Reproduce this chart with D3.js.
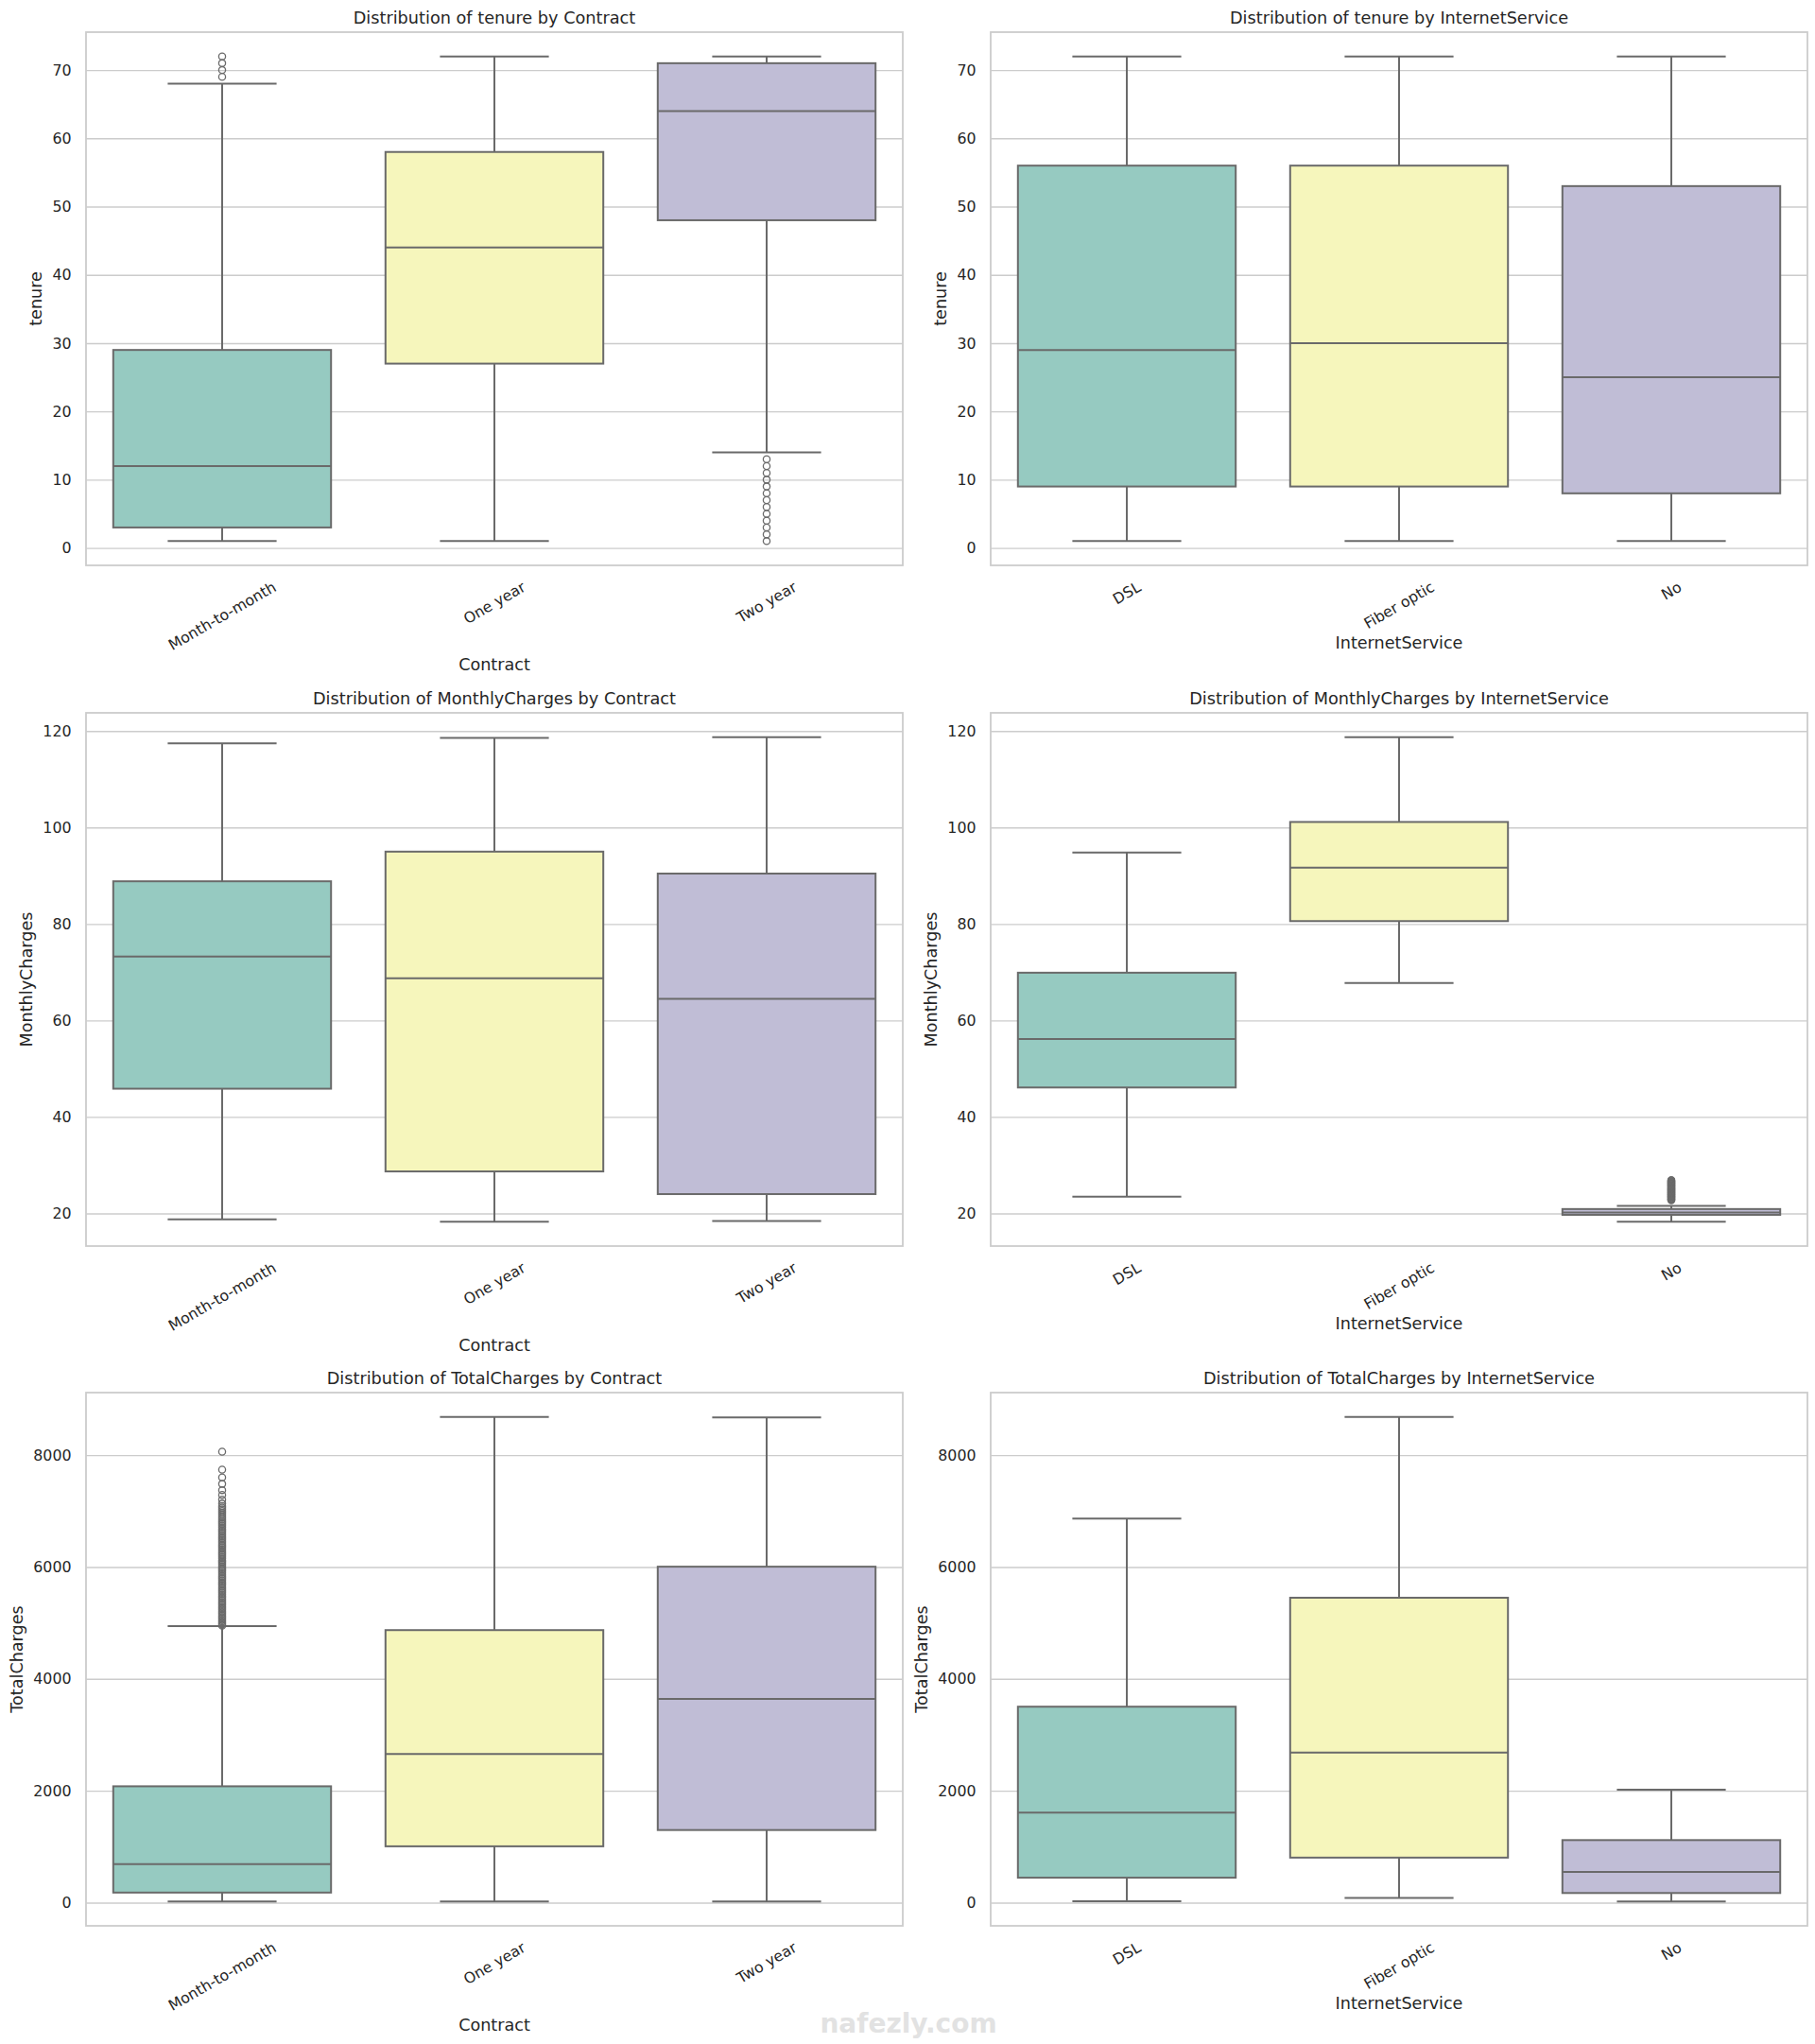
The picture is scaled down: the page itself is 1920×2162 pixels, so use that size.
<!DOCTYPE html>
<html>
<head>
<meta charset="utf-8">
<script src="https://cdn.jsdelivr.net/npm/d3@7"></script>
<style>
  body { margin: 0; background: #ffffff; }
  svg { display: block; font-family: "DejaVu Sans", sans-serif; }
</style>
</head>
<body>
<div id="root"></div>
<script>
// Categories
const contractCats = ["Month-to-month", "One year", "Two year"];
const internetCats = ["DSL", "Fiber optic", "No"];

// Box summaries per category: [whisker low, Q1, median, Q3, whisker high]
const tenureByContract = [[1, 3, 12, 29, 68], [1, 27, 44, 58, 72], [14, 48, 64, 71, 72]];
const tenureByContractFliers = [[69, 70, 71, 72], [], [1, 2, 3, 4, 5, 6, 7, 8, 9, 10, 11, 12, 13]];

const tenureByInternet = [[1, 9, 29, 56, 72], [1, 9, 30, 56, 72], [1, 8, 25, 53, 72]];
const tenureByInternetFliers = [[], [], []];

const monthlyByContract = [[18.75, 45.85, 73.25, 88.85, 117.45], [18.25, 28.7, 68.75, 95, 118.6], [18.4, 24, 64.5, 90.45, 118.75]];
const monthlyByContractFliers = [[], [], []];

const monthlyByInternet = [[23.45, 46.1, 56.15, 69.9, 94.8], [67.75, 80.6, 91.7, 101.15, 118.75], [18.25, 19.7, 20.2, 20.9, 21.55]];
const monthlyByInternetFliers = [[], [], [
  22.75, 22.85, 22.95, 23.05, 23.15, 23.3, 23.4, 23.5, 23.6, 23.75, 23.85, 23.95, 24.05,
  24.2, 24.3, 24.4, 24.5, 24.65, 24.75, 24.85, 24.95, 25.1, 25.2, 25.3, 25.4, 25.55,
  25.65, 25.75, 25.85, 26.0, 26.1, 26.2, 26.3, 26.45, 26.55, 26.65, 26.8, 26.9
]];

const totalByContract = [[18.85, 180, 688, 2080, 4942], [18.8, 1007, 2659, 4872, 8684.8], [20.35, 1298, 3644, 6006, 8672.45]];
const totalByContractFliers = [[
  4950, 4975, 5000, 5025, 5050, 5080, 5105, 5130, 5160, 5185, 5210, 5240, 5265, 5290,
  5320, 5345, 5370, 5400, 5430, 5455, 5480, 5510, 5540, 5565, 5590, 5620, 5650, 5680,
  5705, 5730, 5760, 5790, 5815, 5840, 5870, 5900, 5930, 5955, 5980, 6010, 6040, 6070,
  6095, 6120, 6150, 6180, 6210, 6235, 6260, 6290, 6320, 6350, 6375, 6400, 6430, 6460,
  6490, 6515, 6540, 6570, 6600, 6630, 6655, 6680, 6710, 6740, 6770, 6795, 6820, 6850,
  6880, 6910, 6940, 6970, 7000, 7030, 7060, 7090,
  7135, 7205, 7290, 7375, 7485, 7600, 7740, 8061
], [], []];

const totalByInternet = [[23.45, 446, 1611, 3503, 6866], [84, 805, 2682, 5451, 8684.8], [18.8, 172, 547, 1118, 2018]];
const totalByInternetFliers = [[], [], []];

// Tick labels
const tenureTicks = [0, 10, 20, 30, 40, 50, 60, 70];
const monthlyTicks = [20, 40, 60, 80, 100, 120];
const totalTicks = [0, 2000, 4000, 6000, 8000];

// Set3 palette, desaturated as in seaborn
const palette = ["#96cac1", "#f6f6bc", "#c0bdd6"];

const panels = [
  { title: "Distribution of tenure by Contract", xLabel: "Contract", yLabel: "tenure", cats: contractCats, stats: tenureByContract, fliers: tenureByContractFliers, ticks: tenureTicks },
  { title: "Distribution of tenure by InternetService", xLabel: "InternetService", yLabel: "tenure", cats: internetCats, stats: tenureByInternet, fliers: tenureByInternetFliers, ticks: tenureTicks },
  { title: "Distribution of MonthlyCharges by Contract", xLabel: "Contract", yLabel: "MonthlyCharges", cats: contractCats, stats: monthlyByContract, fliers: monthlyByContractFliers, ticks: monthlyTicks },
  { title: "Distribution of MonthlyCharges by InternetService", xLabel: "InternetService", yLabel: "MonthlyCharges", cats: internetCats, stats: monthlyByInternet, fliers: monthlyByInternetFliers, ticks: monthlyTicks },
  { title: "Distribution of TotalCharges by Contract", xLabel: "Contract", yLabel: "TotalCharges", cats: contractCats, stats: totalByContract, fliers: totalByContractFliers, ticks: totalTicks },
  { title: "Distribution of TotalCharges by InternetService", xLabel: "InternetService", yLabel: "TotalCharges", cats: internetCats, stats: totalByInternet, fliers: totalByInternetFliers, ticks: totalTicks }
];

// Layout
const width = 1920;
const height = 2162;
const colLeft = [91, 1048];
const rowTop = [34, 754, 1473];
const W = 864;
const H = 564;

const lineColor = "#6a6a6a";
const gridColor = "#cccccc";
const textColor = "#262626";
const tickSize = 15.8;
const labelSize = 17.6;
const titleSize = 17.7;

const svg = d3.select("#root")
  .append("svg")
  .attr("width", width)
  .attr("height", height);

panels.forEach((p, i) => {
  const g = svg.append("g")
    .attr("transform", `translate(${colLeft[i % 2]},${rowTop[Math.floor(i / 2)]})`);

  // y extent from all values, padded 5% like matplotlib autoscale
  const all = p.stats.flat().concat(p.fliers.flat());
  const lo = d3.min(all), hi = d3.max(all);
  const pad = (hi - lo) * 0.05;

  const x = d3.scaleBand().domain(p.cats).range([0, W]);
  const y = d3.scaleLinear().domain([lo - pad, hi + pad]).range([H, 0]);
  const bw = x.bandwidth();

  // horizontal grid
  g.append("g")
    .call(d3.axisLeft(y).tickValues(p.ticks).tickSize(-W).tickFormat(""))
    .call(a => a.select(".domain").remove())
    .call(a => a.selectAll("line").attr("stroke", gridColor).attr("stroke-width", 1.4));

  // y tick labels
  const yAxis = g.append("g")
    .call(d3.axisLeft(y).tickValues(p.ticks).tickSize(0).tickPadding(15.5).tickFormat(d3.format("d")))
    .call(a => a.select(".domain").remove());
  yAxis.selectAll("text")
    .attr("fill", textColor)
    .style("font-size", tickSize + "px")
    .style("font-family", "DejaVu Sans");
  let maxTickW = 0;
  yAxis.selectAll("text").each(function () { maxTickW = Math.max(maxTickW, this.getComputedTextLength()); });

  // x tick labels rotated 30 degrees
  const xt = g.append("g");
  let xBottom = 0;
  p.cats.forEach(c => {
    const t = xt.append("text")
      .attr("text-anchor", "middle")
      .attr("dominant-baseline", "central")
      .attr("fill", textColor)
      .style("font-size", tickSize + "px")
      .text(c);
    const w = t.node().getComputedTextLength();
    const bh = w * 0.5 + tickSize * 1.16 * 0.866;
    const cy = H + 13.5 + bh / 2;
    t.attr("transform", `translate(${x(c) + bw / 2},${cy}) rotate(-30)`);
    xBottom = Math.max(xBottom, cy + bh / 2);
  });

  // boxes
  p.cats.forEach((c, k) => {
    const [wl, q1, med, q3, wh] = p.stats[k];
    const cx = x(c) + bw / 2;
    const boxW = bw * 0.8;
    const capW = bw * 0.4;
    const b = g.append("g").attr("stroke", lineColor).attr("stroke-width", 2);
    b.append("line").attr("x1", cx).attr("x2", cx).attr("y1", y(q1)).attr("y2", y(wl));
    b.append("line").attr("x1", cx).attr("x2", cx).attr("y1", y(q3)).attr("y2", y(wh));
    b.append("line").attr("x1", cx - capW / 2).attr("x2", cx + capW / 2).attr("y1", y(wl)).attr("y2", y(wl));
    b.append("line").attr("x1", cx - capW / 2).attr("x2", cx + capW / 2).attr("y1", y(wh)).attr("y2", y(wh));
    b.append("rect")
      .attr("x", cx - boxW / 2)
      .attr("y", y(q3))
      .attr("width", boxW)
      .attr("height", y(q1) - y(q3))
      .attr("fill", palette[k]);
    b.append("line").attr("x1", cx - boxW / 2).attr("x2", cx + boxW / 2).attr("y1", y(med)).attr("y2", y(med));
    g.append("g").selectAll("circle")
      .data(p.fliers[k])
      .join("circle")
      .attr("cx", cx)
      .attr("cy", d => y(d))
      .attr("r", 3.6)
      .attr("fill", "none")
      .attr("stroke", lineColor)
      .attr("stroke-width", 1.3);
  });

  // frame
  g.append("rect")
    .attr("width", W)
    .attr("height", H)
    .attr("fill", "none")
    .attr("stroke", gridColor)
    .attr("stroke-width", 1.8);

  // title and axis labels
  g.append("text")
    .attr("x", W / 2)
    .attr("y", -9)
    .attr("text-anchor", "middle")
    .attr("fill", textColor)
    .style("font-size", titleSize + "px")
    .text(p.title);

  g.append("text")
    .attr("x", W / 2)
    .attr("y", xBottom + 11)
    .attr("text-anchor", "middle")
    .attr("dominant-baseline", "central")
    .attr("fill", textColor)
    .style("font-size", labelSize + "px")
    .text(p.xLabel);

  g.append("text")
    .attr("transform", `translate(${-(15.5 + maxTickW + 17)},${H / 2}) rotate(-90)`)
    .attr("text-anchor", "middle")
    .attr("dominant-baseline", "central")
    .attr("fill", textColor)
    .style("font-size", labelSize + "px")
    .text(p.yLabel);
});

// faint watermark
svg.append("text")
  .attr("x", 961)
  .attr("y", 2150)
  .attr("text-anchor", "middle")
  .attr("fill", "#e2e2e2")
  .style("font-size", "28px")
  .style("font-weight", "bold")
  .text("nafezly.com");
</script>
</body>
</html>
